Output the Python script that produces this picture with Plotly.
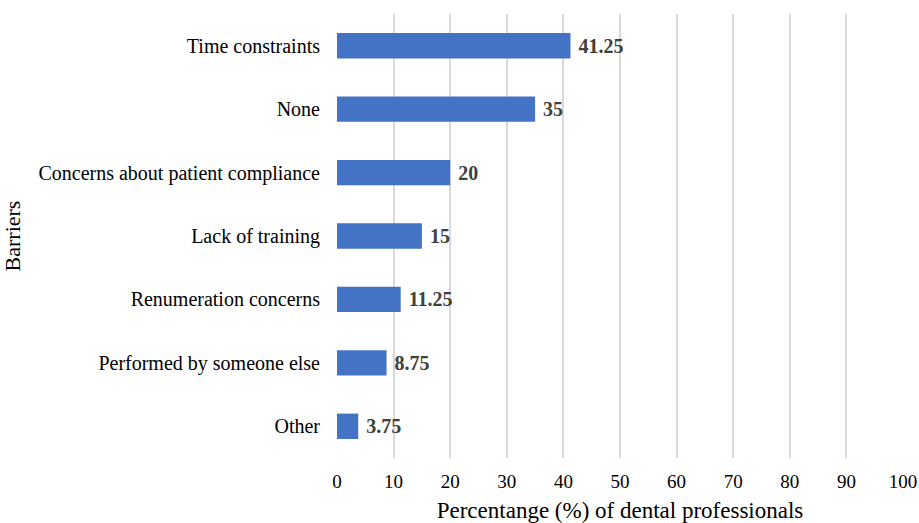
import plotly.graph_objects as go

# Barriers reported by dental professionals (% of respondents)
barriers = [
    "Time constraints",
    "None",
    "Concerns about patient compliance",
    "Lack of training",
    "Renumeration concerns",
    "Performed by someone else",
    "Other",
]
percentages = [41.25, 35, 20, 15, 11.25, 8.75, 3.75]
x_ticks = list(range(0, 101, 10))

SERIF = "Liberation Serif, Times New Roman, serif"

fig = go.Figure(
    go.Bar(
        x=percentages,
        y=barriers,
        orientation="h",
        marker=dict(color="#4472C4", line=dict(width=0)),
        text=percentages,
        texttemplate=" %{x}",
        textposition="outside",
        cliponaxis=False,
        textfont=dict(family=SERIF, size=20, color="#404040", weight="bold"),
    )
)

fig.update_layout(
    width=919,
    height=523,
    margin=dict(l=337, r=16, t=14, b=65),
    paper_bgcolor="white",
    plot_bgcolor="white",
    bargap=0.6,
    showlegend=False,
    font=dict(family=SERIF, color="#000000"),
)

fig.update_xaxes(
    range=[0, 100],
    tickvals=x_ticks,
    ticktext=[str(v) for v in x_ticks],
    showgrid=True,
    gridcolor="#d9d9d9",
    gridwidth=2,
    zeroline=False,
    showline=False,
    ticks="",
    automargin=False,
    ticklabelstandoff=10,
    tickfont=dict(family=SERIF, size=19, color="#000000"),
    title=dict(
        text="Percentange (%) of dental professionals",
        font=dict(family=SERIF, size=23, color="#000000"),
        standoff=18,
    ),
)

fig.update_yaxes(
    categoryorder="array",
    categoryarray=barriers[::-1],
    showgrid=False,
    showline=False,
    ticks="",
    automargin=False,
    ticklabelstandoff=16,
    tickfont=dict(family=SERIF, size=20, color="#000000"),
    title=dict(
        text="Barriers",
        font=dict(family=SERIF, size=22, color="#000000"),
        standoff=11,
    ),
)

fig.write_html("out.html")
